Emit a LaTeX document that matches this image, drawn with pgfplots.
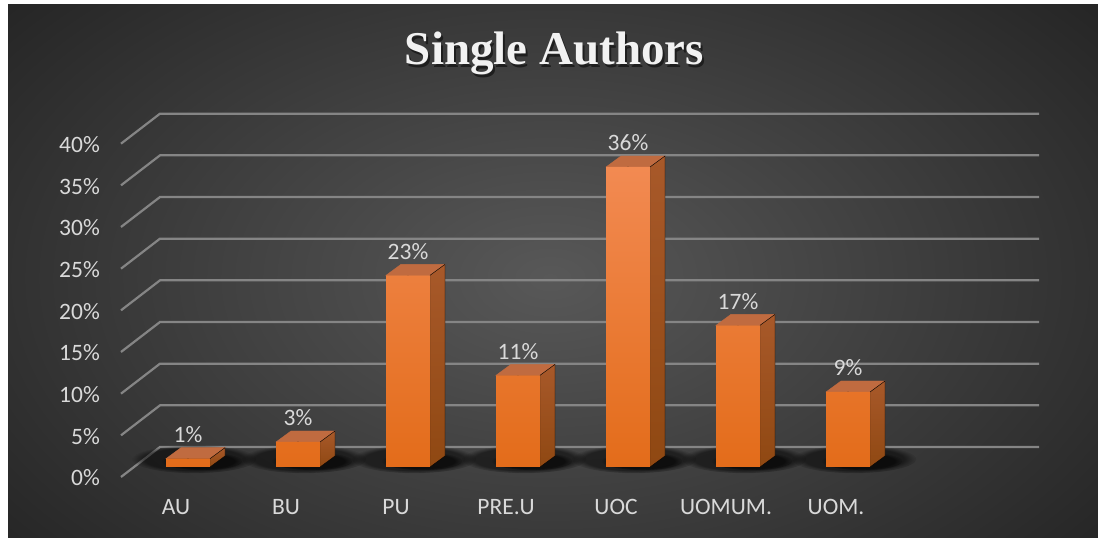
\documentclass[border=0pt]{standalone}
\usepackage{pgfplots}
\pgfplotsset{compat=1.18}
\usepackage{pgfplotstable}
\usepackage{fontspec}
\setmainfont{Carlito}
\newfontfamily\titlefont{Liberation Serif}
\usetikzlibrary{fadings}

\definecolor{bgin}{HTML}{585858}
\definecolor{bgout}{HTML}{262626}
\definecolor{txt}{HTML}{D9D9D9}
\definecolor{gridc}{HTML}{858585}
\definecolor{fronttop}{HTML}{F28A52}
\definecolor{frontmid}{HTML}{F57D25}
\definecolor{frontbot}{HTML}{E36C1A}
\definecolor{topface}{HTML}{C06B40}
\definecolor{sidetop}{HTML}{A8592A}
\definecolor{sidebot}{HTML}{8F4812}
\definecolor{titleshadow}{HTML}{1E1E1E}

\pgfplotstableread{
x v
0 1
1 3
2 23
3 11
4 36
5 17
6 9
}\datatable

\begin{document}
\begin{tikzpicture}[x=1pt,y=1pt]
\useasboundingbox (0,0) rectangle (1098,538);
\fill[white] (0,0) rectangle (1098,538);
\begin{scope}
\clip (8,0) rectangle (1098,533);
\fill[bgout] (8,0) rectangle (1098,533);
\shade[inner color=bgin, outer color=bgout] (-150,-165) rectangle (1250,685);
\end{scope}

% title with shadow (one node)
\node[anchor=base, font=\titlefont\bfseries\fontsize{47}{50}\selectfont, text=white!95!black] at (554.5,473)
  {\makebox[0pt][l]{\hspace{2pt}\raisebox{-2.5pt}{\textcolor{titleshadow}{Single Authors}}}Single Authors};

\begin{axis}[
  at={(122pt,71pt)}, anchor=south west,
  x=110pt, y=8.3333pt,
  xmin=-0.6, xmax=7.0, ymin=0, ymax=40,
  clip=false,
  clip marker paths=true,
  axis line style={draw=none},
  major tick length=0pt,
  tick style={draw=none},
  xtick={0,...,6},
  xticklabels={AU,BU,PU,PRE.U,UOC,UOMUM.,UOM.},
  ytick={0,5,...,40},
  yticklabel={\pgfmathprintnumber{\tick}\%},
  /pgf/number format/assume math mode=true,
  ticklabel style={font=\fontsize{23.5}{28}\selectfont, text=txt},
  yticklabel style={anchor=east, inner sep=0pt, xshift=-22pt, yshift=-11pt},
  xticklabel style={anchor=center, inner sep=0pt, xshift=-12pt, yshift=-40pt},
]

% 3D gridlines
\pgfplotsinvokeforeach{0,5,10,15,20,25,30,35,40}{
  \draw[gridc, line width=2.2pt]
    ([xshift=-67pt,yshift=-10pt]axis cs:0,#1) --
    ([xshift=-28pt,yshift=20pt]axis cs:0,#1) --
    ([xshift=851pt,yshift=20pt]axis cs:0,#1);
}

% floor shadows
\addplot[scatter, only marks, mark=*, mark size=0.01pt,
  visualization depends on={\thisrow{v} \as \rawv},
  scatter/@pre marker code/.code={
    \pgfmathsetmacro\hh{\rawv*8.3333}
    \fill[black, opacity=0.5, path fading=circle with fuzzy edge 20 percent]
      (6pt,{8pt-\hh pt}) ellipse (62pt and 14pt);
    \fill[black, opacity=0.55, path fading=circle with fuzzy edge 20 percent]
      (14pt,{6pt-\hh pt}) ellipse (40pt and 9pt);
  },
  scatter/@post marker code/.code={}
] table[x=x,y=v]{\datatable};

% top and side faces
\addplot[scatter, only marks, mark=*, mark size=0.01pt,
  visualization depends on={\thisrow{v} \as \rawv},
  scatter/@pre marker code/.code={
    \pgfmathsetmacro\hh{\rawv*8.3333}
    \fill[topface] (-22pt,0pt) -- (22pt,0pt) -- (37pt,11pt) -- (-7pt,11pt) -- cycle;
    \shade[top color=sidetop, bottom color=sidebot]
      (22pt,0pt) -- (37pt,11pt) -- (37pt,{11pt-\hh pt}) -- (22pt,{-\hh pt}) -- cycle;
  },
  scatter/@post marker code/.code={}
] table[x=x,y=v]{\datatable};

% front faces with labels
\addplot[ybar, bar width=44pt, bar shift=0pt, draw=none,
  top color=fronttop, middle color=frontmid, bottom color=frontbot,
  point meta=y,
  nodes near coords={\pgfmathprintnumber{\pgfplotspointmeta}\%},
  nodes near coords style={anchor=center, yshift=24pt, text=txt,
    font=\fontsize{23.5}{28}\selectfont},
] table[x=x,y=v]{\datatable};

\end{axis}
\end{tikzpicture}
\end{document}
